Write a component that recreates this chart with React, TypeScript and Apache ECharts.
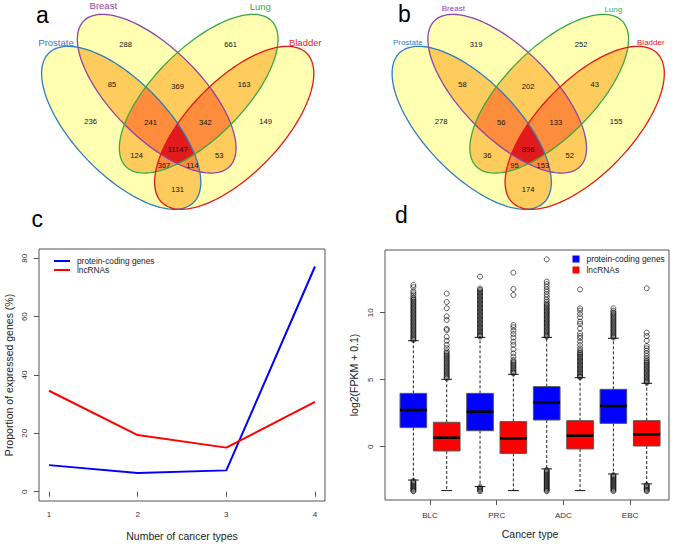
import React, { useEffect, useRef } from 'react';
import * as echarts from 'echarts';

// ---------- data ----------
const vennSetNames = ['Prostate', 'Breast', 'Lung', 'Bladder'];
// region order: Breast, Lung, Pro&Bre, Bre&Lung, Lung&Bla, Prostate, Pro&Bre&Lung, Bre&Lung&Bla,
// Bladder, all four, Pro&Lung, Bre&Bla, Pro&Lung&Bla, Pro&Bre&Bla, Pro&Bla
const vennCountsA = [288, 661, 85, 369, 163, 236, 241, 342, 149, 11147, 124, 53, 367, 114, 131];
const vennCountsB = [319, 252, 58, 202, 43, 278, 56, 133, 155, 896, 36, 52, 95, 153, 174];

const cancerTypeCounts = [1, 2, 3, 4];
const proteinCodingShare = [9.1, 6.4, 7.3, 77.2];
const lncRNAShare = [34.6, 19.4, 15.1, 30.8];
const shareTicks = [0, 20, 40, 60, 80];

const boxCancerTypes = ['BLC', 'PRC', 'ADC', 'EBC'];
const fpkmTicks = [0, 5, 10];
// [lower whisker, Q1, median, Q3, upper whisker]
const proteinCodingBoxes = [
  [-2.49, 1.42, 2.74, 3.98, 7.91],
  [-2.98, 1.19, 2.61, 3.98, 8.16],
  [-1.66, 1.99, 3.31, 4.48, 8.16],
  [-2.04, 1.74, 3.04, 4.28, 8.09],
];
const lncRNABoxes = [
  [-3.28, -0.32, 0.67, 1.82, 5.03],
  [-3.28, -0.5, 0.62, 1.87, 5.4],
  [-3.28, -0.17, 0.82, 1.94, 5.15],
  [-2.78, 0.05, 0.92, 1.94, 4.73],
];
const proteinCodingOutliers = [
  [12.07, 11.9, 11.6, 11.45, 11.3, 11.15, 11.05, 10.95, 10.85, 10.75, 10.65, 10.55, 10.45, 10.35, 10.25, 10.15, 10.05, 9.95, 9.85, 9.75, 9.65, 9.55, 9.45, 9.35, 9.25, 9.15, 9.05, 8.95, 8.85, 8.75, 8.65, 8.55, 8.45, 8.35, 8.25, 8.15, 8.05, 7.97,
    -2.56, -2.64, -2.72, -2.8, -2.88, -2.96, -3.04, -3.12, -3.2, -3.28, -3.32],
  [12.69, 11.8, 11.7, 11.6, 11.5, 11.4, 11.3, 11.2, 11.1, 11.0, 10.9, 10.8, 10.7, 10.6, 10.5, 10.4, 10.3, 10.2, 10.1, 10.0, 9.9, 9.8, 9.7, 9.6, 9.5, 9.4, 9.3, 9.2, 9.1, 9.0, 8.9, 8.8, 8.7, 8.6, 8.5, 8.4, 8.3, 8.22,
    -3.02, -3.1, -3.18, -3.26, -3.32],
  [13.98, 12.32, 12.14, 11.94, 11.74, 11.57, 11.37, 11.17, 10.97, 10.82, 10.68, 10.58, 10.48, 10.38, 10.28, 10.18, 10.08, 9.98, 9.88, 9.78, 9.68, 9.58, 9.48, 9.38, 9.28, 9.18, 9.08, 8.98, 8.88, 8.78, 8.68, 8.58, 8.48, 8.38, 8.28, 8.22,
    -1.74, -1.82, -1.9, -1.98, -2.06, -2.14, -2.22, -2.3, -2.38, -2.46, -2.54, -2.62, -2.7, -2.78, -2.86, -2.94, -3.02, -3.1, -3.18, -3.26, -3.32],
  [10.33, 10.15, 10.02, 9.92, 9.82, 9.72, 9.62, 9.52, 9.42, 9.32, 9.22, 9.12, 9.02, 8.92, 8.82, 8.72, 8.62, 8.52, 8.42, 8.32, 8.22, 8.14,
    -2.12, -2.2, -2.28, -2.36, -2.44, -2.52, -2.6, -2.68, -2.76, -2.84, -2.92, -3.0, -3.08, -3.16, -3.24, -3.32],
];
const lncRNAOutliers = [
  [11.43, 10.8, 10.33, 9.73, 9.46, 8.8, 8.7, 8.2, 7.9, 7.6, 7.35, 7.12, 7.0, 6.9, 6.8, 6.7, 6.6, 6.5, 6.4, 6.3, 6.2, 6.1, 6.0, 5.9, 5.8, 5.7, 5.6, 5.5, 5.4, 5.3, 5.2, 5.1],
  [12.99, 11.77, 11.32, 9.08, 8.91, 8.66, 8.41, 8.14, 7.84, 7.59, 7.27, 6.97, 6.72, 6.47, 6.35, 6.25, 6.15, 6.05, 5.95, 5.85, 5.75, 5.65, 5.55, 5.47],
  [11.74, 10.33, 10.16, 9.9, 9.66, 9.33, 9.16, 8.83, 8.46, 8.26, 8.09, 7.84, 7.59, 7.34, 7.18, 7.05, 6.95, 6.85, 6.75, 6.65, 6.55, 6.45, 6.35, 6.25, 6.15, 6.05, 5.95, 5.85, 5.75, 5.65, 5.55, 5.45, 5.35, 5.25, 5.19],
  [11.82, 8.51, 8.26, 7.91, 7.51, 7.34, 7.16, 6.97, 6.77, 6.59, 6.45, 6.35, 6.25, 6.15, 6.05, 5.95, 5.85, 5.75, 5.65, 5.55, 5.45, 5.35, 5.25, 5.15, 5.05, 4.95, 4.85, 4.78,
    -2.86, -2.94, -3.02, -3.1, -3.18, -3.26, -3.32],
];

// ---------- layout / style ----------
const FONT = "'Liberation Sans', Arial, Helvetica, sans-serif";
const setColors = ['#2f7dc0', '#8e44a8', '#3aa845', '#e3191c'];
const fillByDepth = ['#ffffb2', '#fecc5c', '#fd8d3c', '#e31a1c'];
// ellipses relative to the panel's symmetry axis
const vennShapes = [
  { dx: -56.5, cy: 127.8, a: 104, b: 46.5, deg: 46 },
  { dx: -21, cy: 93.7, a: 103, b: 44.5, deg: 45 },
  { dx: 21, cy: 93.7, a: 103, b: 44.5, deg: -45 },
  { dx: 56.5, cy: 127.8, a: 104, b: 46.5, deg: -46 },
];
const regionLabelPos = [
  [-52, 44.5], [53, 44.5], [-65.7, 84.3], [0, 86.3], [66.5, 84.3], [-87, 121.3], [-27, 122.3],
  [27.6, 122.3], [88, 121.3], [0, 149], [-41, 155.3], [41.6, 155.3], [-13.7, 165.5], [14.7, 165.5], [0, 189.6],
];
const setLabelPosA = [[-121.7, 42.7], [-74.4, 5], [82.6, 6.7], [127.6, 42.7]];
const setLabelPosB = [[-120.4, 42.7], [-74.9, 8.3], [85.1, 9], [122.6, 42.3]];

type P = [number, number];

function ellipsePoints(cx: number, cy: number, a: number, b: number, deg: number, n = 160): P[] {
  const th = (deg * Math.PI) / 180;
  const c = Math.cos(th);
  const s = Math.sin(th);
  const pts: P[] = [];
  for (let i = 0; i < n; i++) {
    const t = (2 * Math.PI * i) / n;
    const u = a * Math.cos(t);
    const v = b * Math.sin(t);
    pts.push([cx + u * c - v * s, cy + u * s + v * c]);
  }
  return pts;
}

function signedArea(p: P[]) {
  let s = 0;
  for (let i = 0; i < p.length; i++) {
    const q = p[(i + 1) % p.length];
    s += p[i][0] * q[1] - q[0] * p[i][1];
  }
  return s;
}

function clipPoly(subject: P[], clip: P[]): P[] {
  const sg = signedArea(clip) > 0 ? 1 : -1;
  let out = subject;
  for (let i = 0; i < clip.length; i++) {
    const A = clip[i];
    const B = clip[(i + 1) % clip.length];
    const input = out;
    out = [];
    if (!input.length) break;
    const inside = (p: P) => sg * ((B[0] - A[0]) * (p[1] - A[1]) - (B[1] - A[1]) * (p[0] - A[0])) >= 0;
    const inter = (p: P, q: P): P => {
      const d1x = q[0] - p[0], d1y = q[1] - p[1];
      const d2x = B[0] - A[0], d2y = B[1] - A[1];
      const den = d1x * d2y - d1y * d2x;
      const t = den === 0 ? 0 : ((A[0] - p[0]) * d2y - (A[1] - p[1]) * d2x) / den;
      return [p[0] + t * d1x, p[1] + t * d1y];
    };
    for (let j = 0; j < input.length; j++) {
      const p = input[j];
      const q = input[(j + 1) % input.length];
      const pin = inside(p);
      const qin = inside(q);
      if (pin) {
        out.push(p);
        if (!qin) out.push(inter(p, q));
      } else if (qin) {
        out.push(inter(p, q));
      }
    }
  }
  return out;
}

function text(x: number, y: number, t: string, size: number, color: string, align = 'center') {
  return {
    type: 'text',
    x,
    y,
    silent: true,
    z: 10,
    style: {
      text: t,
      fill: color,
      fontSize: size,
      fontFamily: FONT,
      align,
      verticalAlign: 'middle',
      textAlign: align,
      textVerticalAlign: 'middle',
    },
  };
}

function vennGraphics(X0: number, counts: number[], labelPos: number[][], labelSize: number) {
  const polys = vennShapes.map((e) => ellipsePoints(X0 + e.dx, e.cy, e.a, e.b, e.deg));
  const els: any[] = [];
  const masks: number[] = [];
  for (let m = 1; m < 16; m++) masks.push(m);
  const depth = (m: number) => (m & 1) + ((m >> 1) & 1) + ((m >> 2) & 1) + ((m >> 3) & 1);
  masks.sort((p, q) => depth(p) - depth(q));
  masks.forEach((m) => {
    let poly: P[] | null = null;
    for (let k = 0; k < 4; k++) {
      if (m & (1 << k)) poly = poly ? clipPoly(poly, polys[k]) : polys[k];
    }
    if (poly && poly.length > 2) {
      els.push({
        type: 'polygon',
        silent: true,
        z: 1,
        shape: { points: poly },
        style: { fill: fillByDepth[depth(m) - 1], stroke: fillByDepth[depth(m) - 1], lineWidth: 0.3 },
      });
    }
  });
  polys.forEach((p, k) => {
    els.push({
      type: 'polygon',
      silent: true,
      z: 3,
      shape: { points: p },
      style: { fill: 'none', stroke: setColors[k], lineWidth: 1.3 },
    });
  });
  counts.forEach((c, i) => {
    els.push(text(X0 + regionLabelPos[i][0], regionLabelPos[i][1], String(c), 7.6, '#111'));
  });
  vennSetNames.forEach((n, k) => {
    els.push(text(X0 + labelPos[k][0], labelPos[k][1], n, labelSize, setColors[k]));
  });
  return els;
}

function buildOption(): any {
  const graphic: any[] = [
    ...vennGraphics(177.7, vennCountsA, setLabelPosA, 9.5),
    ...vennGraphics(528.2, vennCountsB, setLabelPosB, 8),
    text(36, 15, 'a', 23, '#000', 'left'),
    text(398, 13.7, 'b', 23, '#000', 'left'),
    text(31.5, 218.7, 'c', 23, '#000', 'left'),
    text(395, 214.7, 'd', 23, '#000', 'left'),
  ];

  const boxData: any[] = [];
  const outlierData: any[] = [];
  boxCancerTypes.forEach((_, i) => {
    boxData.push([2 * i, ...proteinCodingBoxes[i], 0]);
    boxData.push([2 * i + 1, ...lncRNABoxes[i], 1]);
    proteinCodingOutliers[i].forEach((v) => outlierData.push([2 * i, v]));
    lncRNAOutliers[i].forEach((v) => outlierData.push([2 * i + 1, v]));
  });
  const slotNames = boxCancerTypes.flatMap((c) => [c + ' pc', c + ' lnc']);

  const axisLabelStyle = { fontSize: 8, color: '#333', fontFamily: FONT };
  const nameStyle = { fontSize: 10.5, color: '#222', fontFamily: FONT };
  const tickStyle = { color: '#555', width: 1 };

  return {
    animation: false,
    backgroundColor: '#fff',
    textStyle: { fontFamily: FONT },
    graphic,
    legend: [
      {
        data: [
          { name: 'protein-coding genes', icon: 'rect' },
          { name: 'lncRNAs', icon: 'rect' },
        ],
        left: 54,
        top: 256.5,
        orient: 'vertical',
        itemWidth: 16,
        itemHeight: 2,
        itemGap: 0,
        padding: 0,
        selectedMode: false,
        textStyle: { fontSize: 8.3, color: '#222', lineHeight: 9, padding: [0, 0, 0, 2] },
      },
      {
        data: [
          { name: 'protein-coding genes', icon: 'rect' },
          { name: 'lncRNAs', icon: 'rect' },
        ],
        left: 572.5,
        top: 255,
        orient: 'vertical',
        itemWidth: 7,
        itemHeight: 7,
        itemGap: 3,
        padding: 0,
        selectedMode: false,
        textStyle: { fontSize: 8.4, color: '#222', lineHeight: 7, padding: [0, 0, 0, 2] },
      },
    ],
    grid: [
      { left: 39, top: 249, width: 286, height: 252, show: true, borderColor: '#555', borderWidth: 1, backgroundColor: 'transparent' },
      { left: 385, top: 250, width: 284, height: 250, show: true, borderColor: '#555', borderWidth: 1, backgroundColor: 'transparent' },
      { left: 396.7, top: 250, width: 266.7, height: 250 },
    ],
    xAxis: [
      {
        gridIndex: 0,
        type: 'value',
        min: 0.887,
        max: 4.113,
        axisLine: { show: false },
        splitLine: { show: false },
        axisTick: { show: true, length: 5, customValues: cancerTypeCounts, lineStyle: tickStyle },
        axisLabel: { ...axisLabelStyle, margin: 9, customValues: cancerTypeCounts },
        name: 'Number of cancer types',
        nameLocation: 'middle',
        nameGap: 29,
        nameTextStyle: nameStyle,
      },
      { gridIndex: 1, type: 'value', show: false, min: 0, max: 1 },
      { gridIndex: 2, type: 'category', data: slotNames, show: false },
      {
        gridIndex: 2,
        type: 'category',
        data: boxCancerTypes,
        position: 'bottom',
        axisLine: { show: false },
        axisTick: { show: true, alignWithLabel: true, length: 5, lineStyle: tickStyle },
        axisLabel: { ...axisLabelStyle, margin: 11 },
        splitLine: { show: false },
        name: 'Cancer type',
        nameLocation: 'middle',
        nameGap: 28,
        nameTextStyle: nameStyle,
      },
    ],
    yAxis: [
      {
        gridIndex: 0,
        type: 'value',
        min: -3.2,
        max: 83.2,
        axisLine: { show: false },
        splitLine: { show: false },
        axisTick: { show: true, length: 5, customValues: shareTicks, lineStyle: tickStyle },
        axisLabel: { ...axisLabelStyle, rotate: 90, margin: 11, customValues: shareTicks },
        name: 'Proportion of expressed genes (%)',
        nameLocation: 'middle',
        nameGap: 25,
        nameTextStyle: nameStyle,
      },
      {
        gridIndex: 1,
        type: 'value',
        min: -3.98,
        max: 14.68,
        axisLine: { show: false },
        splitLine: { show: false },
        axisTick: { show: true, length: 5, customValues: fpkmTicks, lineStyle: tickStyle },
        axisLabel: { ...axisLabelStyle, rotate: 90, margin: 11, customValues: fpkmTicks },
        name: 'log2(FPKM + 0.1)',
        nameLocation: 'middle',
        nameGap: 26,
        nameTextStyle: nameStyle,
      },
      { gridIndex: 2, type: 'value', min: -3.98, max: 14.68, show: false },
    ],
    series: [
      {
        name: 'protein-coding genes',
        type: 'line',
        xAxisIndex: 0,
        yAxisIndex: 0,
        symbol: 'none',
        color: '#0000ff',
        lineStyle: { width: 2, color: '#0000ff' },
        data: cancerTypeCounts.map((c, i) => [c, proteinCodingShare[i]]),
      },
      {
        name: 'lncRNAs',
        type: 'line',
        xAxisIndex: 0,
        yAxisIndex: 0,
        symbol: 'none',
        color: '#ff0000',
        lineStyle: { width: 2, color: '#ff0000' },
        data: cancerTypeCounts.map((c, i) => [c, lncRNAShare[i]]),
      },
      {
        type: 'custom',
        xAxisIndex: 2,
        yAxisIndex: 2,
        encode: { x: 0, y: [1, 2, 3, 4, 5] },
        data: boxData,
        renderItem: (params: any, api: any) => {
          const x = api.value(0);
          const low = api.coord([x, api.value(1)]);
          const q1 = api.coord([x, api.value(2)]);
          const med = api.coord([x, api.value(3)]);
          const q3 = api.coord([x, api.value(4)]);
          const high = api.coord([x, api.value(5)]);
          const bw = api.size([1, 0])[0] * 0.8;
          const cx = low[0];
          const fill = api.value(6) === 0 ? '#0000ff' : '#ff0000';
          const dash = { stroke: '#222', lineWidth: 1, lineDash: [3, 2] };
          const solid = { stroke: '#111', lineWidth: 1 };
          const st = bw * 0.2;
          return {
            type: 'group',
            children: [
              { type: 'line', shape: { x1: cx, y1: q3[1], x2: cx, y2: high[1] }, style: dash },
              { type: 'line', shape: { x1: cx, y1: q1[1], x2: cx, y2: low[1] }, style: dash },
              { type: 'line', shape: { x1: cx - st, y1: high[1], x2: cx + st, y2: high[1] }, style: solid },
              { type: 'line', shape: { x1: cx - st, y1: low[1], x2: cx + st, y2: low[1] }, style: solid },
              {
                type: 'rect',
                shape: { x: cx - bw / 2, y: q3[1], width: bw, height: q1[1] - q3[1] },
                style: { fill, stroke: '#555', lineWidth: 1 },
              },
              {
                type: 'line',
                shape: { x1: cx - bw / 2, y1: med[1], x2: cx + bw / 2, y2: med[1] },
                style: { stroke: '#000', lineWidth: 2.6 },
              },
            ],
          };
        },
      },
      {
        type: 'scatter',
        xAxisIndex: 2,
        yAxisIndex: 2,
        symbol: 'circle',
        symbolSize: 5,
        itemStyle: { color: 'transparent', borderColor: '#000', borderWidth: 0.8 },
        data: outlierData,
      },
    ],
  };
}

export default function App() {
  const ref = useRef<HTMLDivElement>(null);
  useEffect(() => {
    if (!ref.current) return;
    const chart = echarts.init(ref.current, null, { renderer: 'svg' });
    chart.setOption(buildOption());
    return () => chart.dispose();
  }, []);
  return (
    <div
      ref={ref}
      style={{ position: 'absolute', left: 0, top: 0, width: 675, height: 544, background: '#fff' }}
    />
  );
}
